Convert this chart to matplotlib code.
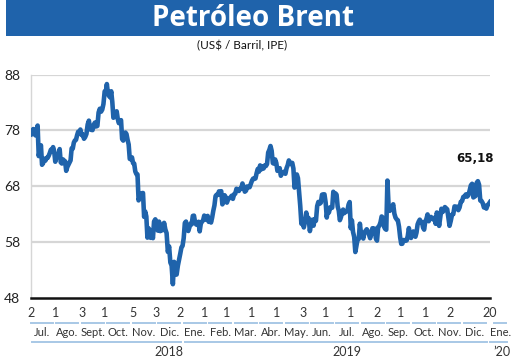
import matplotlib
matplotlib.use("Agg")
import matplotlib.pyplot as plt
import numpy as np
import pandas as pd
from matplotlib.lines import Line2D
from matplotlib.patches import Rectangle
from matplotlib.transforms import blended_transform_factory

# Brent (US$/barril, IPE), one list per month
p_2018_07 = [77.30, 77.76, 78.24, 77.39, 77.11, 78.07, 78.86, 73.40, 74.45, 75.33, 71.84,
             72.16, 72.90, 72.58, 73.07, 73.06, 73.44, 73.93, 74.54, 74.29, 75.00, 74.25]
p_2018_08 = [72.39, 73.45, 73.21, 73.75, 74.65, 72.28, 72.07, 72.81, 72.61, 72.46, 70.76,
             71.43, 71.83, 72.21, 72.63, 74.78, 74.73, 75.82, 76.21, 76.31, 77.14, 77.77, 77.42]
p_2018_09 = [78.15, 77.17, 77.27, 76.50, 76.83, 77.37, 79.06, 79.74, 78.18, 78.09, 78.05,
             79.03, 79.40, 78.70, 78.80, 81.20, 81.87, 81.34, 81.72, 82.72]
p_2018_10 = [84.98, 84.80, 86.29, 84.58, 84.16, 83.91, 85.00, 83.09, 80.26, 80.43, 80.78,
             81.41, 80.05, 79.29, 79.78, 79.83, 76.44, 76.17, 76.89, 77.62, 77.34, 76.31, 75.47]
p_2018_11 = [72.89, 72.83, 73.17, 72.13, 72.07, 70.65, 70.18, 70.12, 65.47, 66.12, 66.62,
             66.76, 66.79, 62.53, 63.48, 62.60, 58.80, 60.48, 60.21, 58.76, 59.51, 58.71]
p_2018_12 = [61.69, 62.08, 61.56, 60.06, 61.67, 59.97, 60.20, 60.15, 61.45, 60.28, 59.61,
             56.26, 57.24, 54.35, 53.82, 50.47, 54.47, 52.16, 52.20, 53.80]
p_2019_01 = [54.91, 55.95, 57.06, 57.33, 58.72, 61.44, 61.68, 60.48, 59.99, 60.64, 61.32,
             61.18, 62.70, 62.74, 61.50, 61.14, 61.09, 61.64, 59.93, 61.32, 61.65, 61.89]
p_2019_02 = [62.75, 62.51, 61.98, 62.69, 61.63, 62.10, 61.51, 62.42, 63.61, 64.57, 66.25,
             66.50, 66.45, 67.08, 67.07, 67.12, 64.76, 65.21, 66.39, 66.03]
p_2019_03 = [65.07, 65.67, 65.86, 65.99, 66.30, 65.74, 66.58, 66.67, 67.55, 67.23, 67.16,
             67.54, 67.61, 68.50, 67.86, 67.03, 67.21, 67.97, 67.83, 67.82, 68.39]
p_2019_04 = [69.01, 69.37, 69.31, 69.40, 70.34, 71.10, 70.61, 71.73, 71.02, 71.55, 71.18,
             71.72, 71.62, 71.97, 74.04, 74.51, 75.20, 74.35, 72.15, 72.04, 72.80]
p_2019_05 = [72.18, 70.75, 70.85, 71.24, 69.88, 70.37, 70.39, 70.62, 70.23, 71.24, 71.77,
             72.62, 72.21, 71.97, 72.18, 71.18, 67.76, 68.69, 70.11, 69.45, 66.87, 64.49]
p_2019_06 = [61.28, 61.97, 60.63, 61.67, 63.29, 62.29, 62.29, 59.97, 61.31, 62.01, 60.94,
             62.14, 61.82, 64.45, 65.20, 64.86, 65.05, 66.49, 66.55, 66.55]
p_2019_07 = [65.06, 62.40, 63.82, 63.30, 64.23, 64.11, 64.16, 67.01, 66.52, 66.72, 66.48,
             64.35, 63.66, 61.93, 62.47, 63.26, 63.83, 63.18, 63.39, 63.46, 63.71, 64.72, 65.17]
p_2019_08 = [60.50, 61.89, 59.81, 58.94, 56.23, 57.38, 58.53, 58.57, 61.30, 59.48, 59.23,
             58.64, 59.74, 60.03, 60.30, 59.92, 59.34, 58.70, 59.51, 60.49, 60.08, 60.43]
p_2019_09 = [58.66, 58.26, 60.70, 60.95, 61.54, 62.59, 62.38, 60.81, 60.38, 60.22, 69.02,
             64.55, 63.60, 64.40, 64.28, 64.77, 63.10, 62.39, 62.08, 61.91, 60.78]
p_2019_10 = [58.89, 57.69, 57.71, 58.37, 58.35, 58.24, 58.32, 59.10, 60.51, 59.35, 58.74,
             59.42, 59.91, 59.42, 58.96, 59.70, 61.17, 61.67, 62.02, 61.57, 61.59, 60.61, 60.23]
p_2019_11 = [61.69, 62.13, 62.96, 61.74, 62.29, 62.51, 62.18, 62.06, 62.37, 61.28, 63.30,
             62.44, 60.91, 62.40, 63.97, 63.39, 63.65, 64.27, 64.06, 63.87, 62.43]
p_2019_12 = [60.92, 61.82, 62.93, 63.00, 64.39, 64.25, 64.34, 63.72, 64.20, 65.22, 65.34,
             66.10, 66.17, 66.54, 66.14, 66.39, 67.20, 68.16, 68.44, 66.00]
p_2020_01 = [66.25, 68.60, 68.91, 68.27, 65.44, 65.37, 64.98, 64.20, 64.49, 64.00, 64.62,
             64.85, 65.18]

MONTHS = pd.date_range("2018-07-01", "2020-01-01", freq="MS")
MONTH_PRICES = [p_2018_07, p_2018_08, p_2018_09, p_2018_10, p_2018_11, p_2018_12,
                p_2019_01, p_2019_02, p_2019_03, p_2019_04, p_2019_05, p_2019_06,
                p_2019_07, p_2019_08, p_2019_09, p_2019_10, p_2019_11, p_2019_12, p_2020_01]
TICK_DAYS = [2, 1, 3, 1, 5, 3, 2, 1, 1, 1, 1, 3, 1, 1, 2, 1, 1, 2, 20]
MONTH_LABELS = ["Jul.", "Ago.", "Sept.", "Oct.", "Nov.", "Dic.", "Ene.", "Feb.", "Mar.",
                "Abr.", "May.", "Jun.", "Jul.", "Ago.", "Sep.", "Oct.", "Nov.", "Dic.", "Ene."]
YEAR_LABELS = ["2018", "2019", "\u201920"]
YEAR_AT = [5, 12, 18]                  # month label under which the year sits
YEAR_SPANS = [(0, 5), (6, 17), (18, 18)]
Y_TICKS = [48, 58, 68, 78, 88]

START = pd.Timestamp("2018-07-02")
END = pd.Timestamp("2020-01-20")

# spread each month's quotes across that month
dates, prices = [], []
for i, (m, vals) in enumerate(zip(MONTHS, MONTH_PRICES)):
    lo = max(m, START)
    if i + 1 < len(MONTHS):
        hi = MONTHS[i + 1]
        frac = np.arange(len(vals)) / len(vals)
    else:
        lo, hi = pd.Timestamp("2020-01-02"), END
        frac = np.linspace(0, 1, len(vals))
    dates += [lo + (hi - lo) * f for f in frac]
    prices += vals

BLUE = "#1f63ab"
LIGHT = "#a8c8e6"
FONT = ["Lato", "DejaVu Sans"]

W, H = 520, 363
fig = plt.figure(figsize=(W / 100, H / 100), dpi=100)
ax = fig.add_axes([31 / W, 1 - 298 / H, (490 - 31) / W, (298 - 74.5) / H])


def fx(px):
    return px / W


def fy(py):
    return 1 - py / H


# title bar
fig.add_artist(Rectangle((fx(6), fy(36)), fx(494) - fx(6), fy(0) - fy(36),
                         transform=fig.transFigure, color=BLUE, lw=0, zorder=0))
fig.text(fx(253), fy(18), "Petróleo Brent", color="white", fontsize=20, fontweight="bold",
         family=["Open Sans", "DejaVu Sans"], ha="center", va="center")
fig.text(fx(242), fy(46), "(US$ / Barril, IPE)", fontsize=8.5, color="#111111",
         family=FONT, ha="center", va="center")

ax.plot(dates, prices, color=BLUE, lw=3.3, solid_joinstyle="round", zorder=3)
ax.set_xlim(START, END)
ax.set_ylim(48, 88)
ax.set_yticks(Y_TICKS)
ax.set_yticklabels([str(v) for v in Y_TICKS], family=FONT, fontsize=10, color="#222222")
ax.tick_params(axis="y", length=0, pad=8)
ax.set_xticks([])
for v in Y_TICKS[1:]:
    ax.axhline(v, color="#d6d6d6", lw=1.6, zorder=1)
for s in ("top", "right"):
    ax.spines[s].set_visible(False)
ax.spines["left"].set_color("#d6d6d6")
ax.spines["left"].set_linewidth(1.0)
ax.spines["bottom"].set_color("#111111")
ax.spines["bottom"].set_linewidth(1.8)
ax.spines["bottom"].set_zorder(4)

last = prices[-1]
ax.text(pd.Timestamp("2020-01-01"), 73.0, f"{last:.2f}".replace(".", ","),
        fontsize=8.5, fontweight="bold", color="#111111", ha="center", va="center",
        family=["DejaVu Sans"])

# x axis: first trading day of each month, at its date
trans = blended_transform_factory(ax.transData, fig.transFigure)
for m, d in zip(MONTHS, TICK_DAYS):
    ax.text(m.replace(day=d), fy(313), str(d), transform=trans, ha="center", va="center",
            fontsize=9, color="#333333", family=FONT, clip_on=False)

# month names sit on an even grid, underlined
step = 25.45
lab_x = [42 + step * i for i in range(len(MONTH_LABELS))]
for i, (x, lab) in enumerate(zip(lab_x, MONTH_LABELS)):
    fig.text(fx(x), fy(333), lab, ha="center", va="center", fontsize=8,
             color="#333333", family=FONT)
    half = 11 if i < len(MONTH_LABELS) - 1 else 6
    fig.add_artist(Line2D([fx(x - half), fx(x + half)], [fy(323), fy(323)],
                          transform=fig.transFigure, color=LIGHT, lw=1.4))
for (a, b), at, lab in zip(YEAR_SPANS, YEAR_AT, YEAR_LABELS):
    x0 = lab_x[a] - 10
    x1 = lab_x[b] + (12 if b < len(lab_x) - 1 else 7)
    fig.add_artist(Line2D([fx(x0), fx(x1)], [fy(342), fy(342)],
                          transform=fig.transFigure, color=LIGHT, lw=1.4))
    fig.text(fx(lab_x[at] + (2 if lab.startswith("\u2019") else 0)), fy(352), lab,
             ha="center", va="center", fontsize=9, color="#333333", family=FONT)

fig.savefig("out.png", dpi=100, facecolor="white")
